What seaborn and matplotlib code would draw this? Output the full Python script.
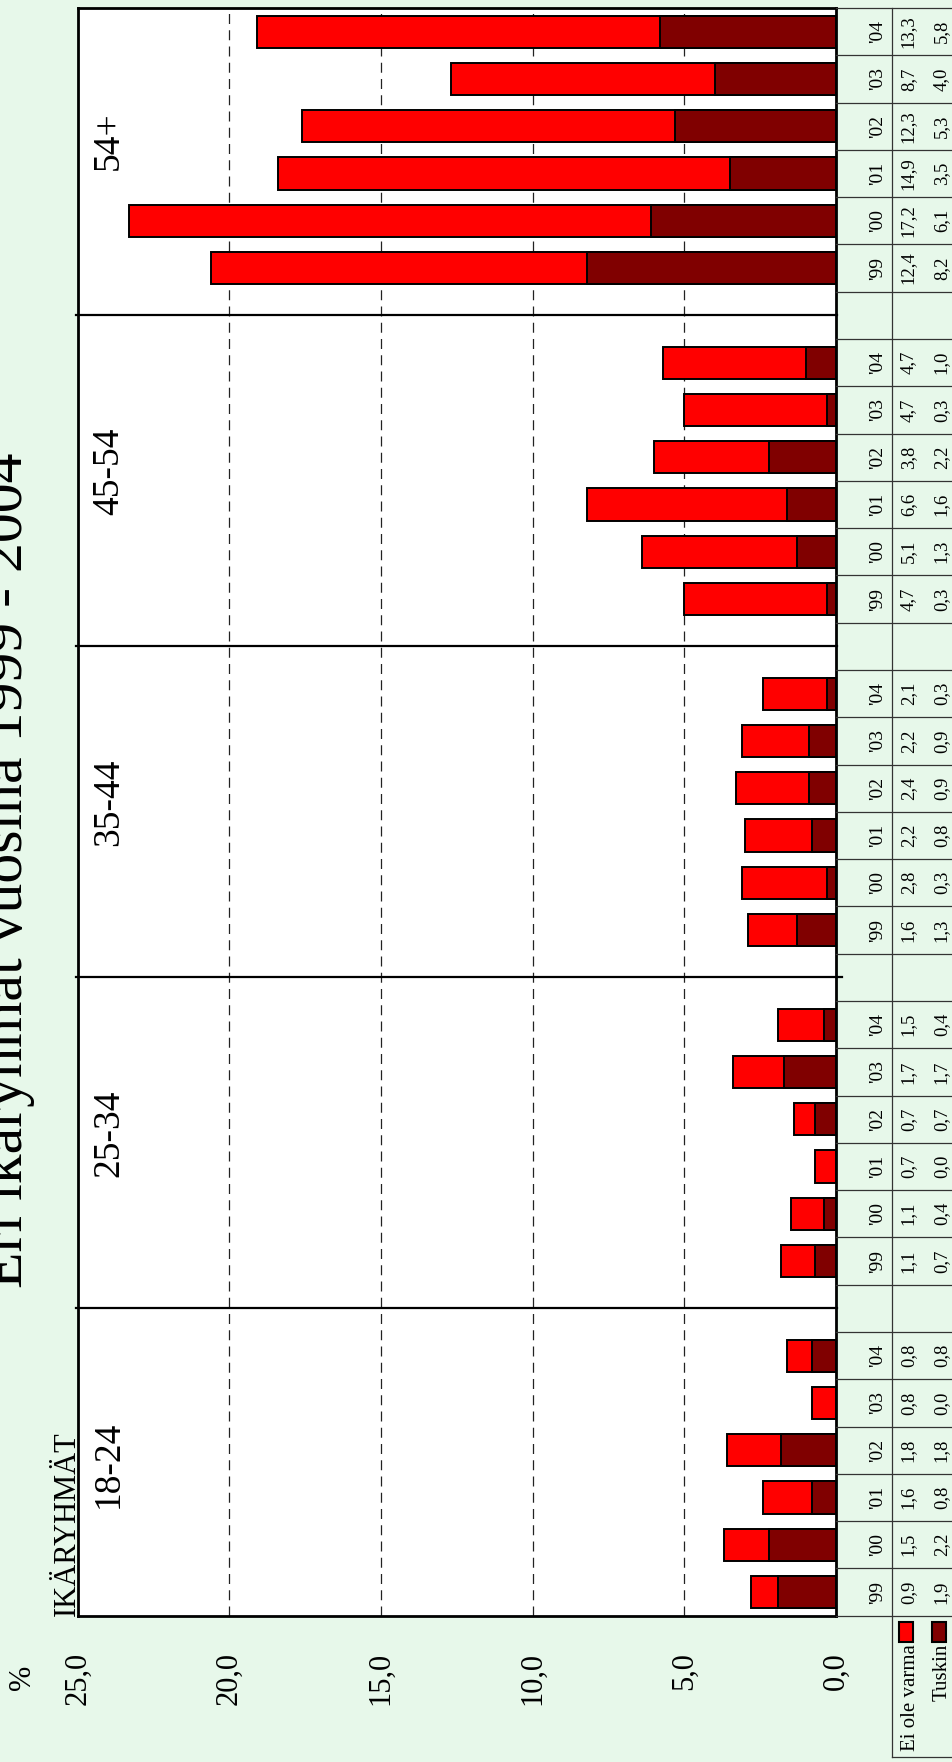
import numpy as np
import pandas as pd
import matplotlib
matplotlib.use("Agg")
import matplotlib.pyplot as plt
import seaborn as sns
from matplotlib import transforms
from matplotlib.patches import Rectangle
from matplotlib.lines import Line2D

# ---------------- data ----------------
groups = ["18-24", "25-34", "35-44", "45-54", "54+"]
years = ["'99", "'00", "'01", "'02", "'03", "'04"]
ei_ole_varma = [0.9, 1.5, 1.6, 1.8, 0.8, 0.8,
                1.1, 1.1, 0.7, 0.7, 1.7, 1.5,
                1.6, 2.8, 2.2, 2.4, 2.2, 2.1,
                4.7, 5.1, 6.6, 3.8, 4.7, 4.7,
                12.4, 17.2, 14.9, 12.3, 8.7, 13.3]
tuskin = [1.9, 2.2, 0.8, 1.8, 0.0, 0.8,
          0.7, 0.4, 0.0, 0.7, 1.7, 0.4,
          1.3, 0.3, 0.8, 0.9, 0.9, 0.3,
          0.3, 1.3, 1.6, 2.2, 0.3, 1.0,
          8.2, 6.1, 3.5, 5.3, 4.0, 5.8]
value_ticks = [25, 20, 15, 10, 5, 0]
value_tick_labels = ["25,0", "20,0", "15,0", "10,0", "5,0", "0,0"]
series_names = ["Ei ole varma", "Tuskin"]
title = "Eri ikäryhmät vuosina 1999 - 2004"

# ---------------- style ----------------
BG = "#E7F8EA"
RED = "#FF0000"
DARK = "#800000"
W, H = 953, 1762
plt.rcParams["font.family"] = ["Liberation Serif", "DejaVu Serif"]

rows = []
for g, grp in enumerate(groups):
    for i, yr in enumerate(years):
        k = g * 6 + i
        rows.append(dict(group=grp, year=yr, pos=g * 7 + i,
                         ei=ei_ole_varma[k], tuskin=tuskin[k],
                         total=ei_ole_varma[k] + tuskin[k]))
df = pd.DataFrame(rows)

fig = plt.figure(figsize=(W / 100, H / 100), dpi=100, facecolor=BG)
ax_left, ax_right = 77.7, 836.0
ax_top, ax_bot = 8.0, 1615.7
ax = fig.add_axes([ax_left / W, 1 - ax_bot / H, (ax_right - ax_left) / W, (ax_bot - ax_top) / H])
ax.set_facecolor("white")

n_slots = 34
slot_px = (ax_bot - ax_top) / n_slots
val_per_px = 25 / (ax_right - ax_left)


def ydat(py):
    return -0.5 - (py - ax_bot) / slot_px


# grid
for v in [5, 10, 15, 20]:
    ax.axvline(v, color="#222222", lw=0.9, ls=(0, (8, 5)), zorder=0.5)

sns.barplot(data=df, x="total", y="pos", orient="y", native_scale=True,
            color=RED, saturation=1, width=0.68, edgecolor="black",
            linewidth=1.4, errorbar=None, ax=ax, zorder=2)
sns.barplot(data=df, x="tuskin", y="pos", orient="y", native_scale=True,
            color=DARK, saturation=1, width=0.68, edgecolor="black",
            linewidth=1.4, errorbar=None, ax=ax, zorder=2)

# group separators (slightly protruding, as in the reference)
for g in range(1, len(groups)):
    ext_r = 6 if g == 2 else 1
    ax.plot([25 + 2 * val_per_px, -ext_r * val_per_px], [g * 7 - 1, g * 7 - 1],
            color="black", lw=1.6, zorder=3, clip_on=False)

ax.set_xlim(25, 0)
ax.set_ylim(-0.5, n_slots - 0.5)
ax.set_xticks(value_ticks)
ax.set_xticklabels(value_tick_labels)
ax.tick_params(axis="x", length=0, pad=26, labelsize=22, labelrotation=90)
ax.set_yticks([])
ax.set_xlabel("")
ax.set_ylabel("")
for s in ax.spines.values():
    s.set_color("black")
    s.set_linewidth(2.0)

bt = transforms.blended_transform_factory(fig.transFigure, ax.transData)

# title (partly outside the figure, as in reference)
fig.text(22 / W, 1 - 870 / H, title, rotation=90, rotation_mode="anchor",
         ha="center", va="baseline", fontsize=43)

# % label
fig.text(23 / W, 1 - 1677 / H, "%", rotation=90, ha="center", va="center", fontsize=22)

# IKÄRYHMÄT
ax.text(75 / W, -0.5, "IKÄRYHMÄT", transform=bt, rotation=90, rotation_mode="anchor",
        ha="left", va="baseline", fontsize=22, clip_on=False)

# group labels
for g, grp in enumerate(groups):
    ax.text(118 / W, g * 7 + 2.5 + 0.2, grp, transform=bt, rotation=90,
            rotation_mode="anchor", ha="center", va="baseline", fontsize=27)

# table lines
line_kw = dict(color="#333333", lw=0.9, transform=bt)
for k in range(n_slots + 1):
    yk = k - 0.5
    fig.add_artist(Line2D([ax_right / W, 1.0], [yk, yk], **line_kw))
leg_bot = ydat(1757)
fig.add_artist(Line2D([892 / W, 892 / W], [n_slots - 0.5, leg_bot], **line_kw))
fig.add_artist(Line2D([892 / W, 1.0], [leg_bot, leg_bot], **line_kw))

# table text
for _, r in df.iterrows():
    ax.text(882 / W, r["pos"], r["year"], transform=bt, rotation=90, rotation_mode="anchor",
            ha="center", va="baseline", fontsize=14)
    ax.text(913 / W, r["pos"], f"{r['ei']:.1f}".replace(".", ","), transform=bt, rotation=90,
            rotation_mode="anchor", ha="center", va="baseline", fontsize=13.5)
    ax.text(946 / W, r["pos"], f"{r['tuskin']:.1f}".replace(".", ","), transform=bt, rotation=90,
            rotation_mode="anchor", ha="center", va="baseline", fontsize=13.5)

# legend
sw_top, sw_bot = ydat(1622), ydat(1642)
for x0, col, name, xb in [(899, RED, series_names[0], 915), (932, DARK, series_names[1], 947)]:
    fig.add_artist(Rectangle((x0 / W, sw_bot), 14 / W, sw_top - sw_bot, transform=bt,
                             facecolor=col, edgecolor="black", lw=1.5))
    ax.text(xb / W, ydat(1644), name, transform=bt, rotation=90, rotation_mode="anchor",
            ha="right", va="baseline", fontsize=15, clip_on=False)

fig.savefig("out.png", dpi=100, facecolor=BG)
